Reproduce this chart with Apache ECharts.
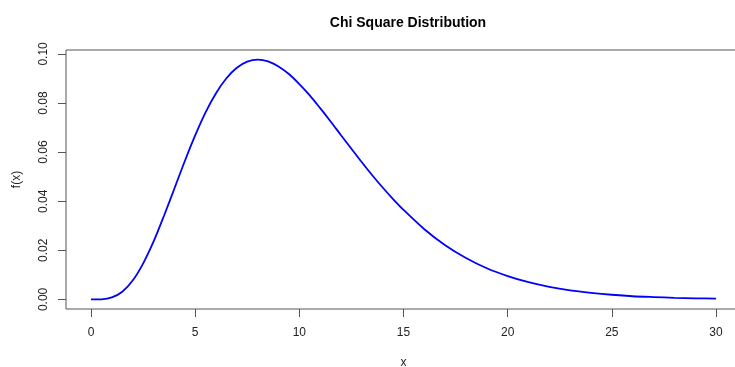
<!DOCTYPE html>
<html>
<head>
<meta charset="utf-8">
<script src="https://cdn.jsdelivr.net/npm/echarts@6/dist/echarts.min.js"></script>
<style>
  html, body { margin: 0; padding: 0; background: #fff; }
  #chart { width: 735px; height: 367px; }
</style>
</head>
<body>
<div id="chart"></div>
<script>
// values
const xValues = [0, 0.5, 1, 1.5, 2, 2.5, 3, 3.5, 4, 4.5, 5, 5.5, 6, 6.5, 7, 7.5, 8, 8.5, 9, 9.5,
  10, 10.5, 11, 11.5, 12, 12.5, 13, 13.5, 14, 14.5, 15, 16, 17, 18, 19, 20, 21, 22, 23, 24, 25,
  26, 27, 28, 29, 30]
const yValues = [0, 0.00006, 0.0008, 0.0031, 0.0077, 0.0146, 0.0235, 0.034, 0.0451, 0.0563, 0.0668,
  0.0762, 0.084, 0.0901, 0.0944, 0.0969, 0.0977, 0.0970, 0.0949, 0.0918, 0.0877, 0.0831, 0.0779,
  0.0725, 0.0669, 0.0614, 0.0559, 0.0506, 0.0456, 0.0409, 0.0365, 0.0286, 0.0221, 0.0169, 0.0127,
  0.0095, 0.007, 0.0051, 0.0037, 0.0027, 0.0019, 0.0013, 0.00095, 0.00067, 0.00046, 0.00032]
const xTicks = [0, 5, 10, 15, 20, 25, 30]
const yTicks = [0, 0.02, 0.04, 0.06, 0.08, 0.1]

const chart = echarts.init(document.getElementById('chart'))
const font = 'Liberation Sans, Arial, sans-serif'

const option = {
  animation: false,
  title: {
    text: 'Chi Square Distribution',
    left: 403,
    top: 11,
    textAlign: 'center',
    textStyle: { fontFamily: font, fontSize: 14, fontWeight: 'bold', color: '#000' }
  },
  grid: {
    left: 66,
    width: 675,   // frame runs past the right edge of the picture
    top: 50,
    height: 259,
    show: true,
    containLabel: false,
    outerBoundsMode: 'none',
    borderColor: '#555',
    borderWidth: 1
  },
  xAxis: {
    type: 'value',
    min: -1.2,
    max: 31.2,
    name: 'x',
    nameLocation: 'middle',
    nameGap: 48,
    nameTextStyle: { fontFamily: font, fontSize: 12, color: '#222' },
    axisLine: { show: false, onZero: false },
    axisTick: { show: true, length: 8, lineStyle: { color: '#555' }, customValues: xTicks },
    axisLabel: { fontFamily: font, fontSize: 12, color: '#222', margin: 18, customValues: xTicks },
    splitLine: { show: false }
  },
  yAxis: {
    type: 'value',
    min: -0.0039,
    max: 0.1016,
    name: 'f(x)',
    nameLocation: 'middle',
    nameGap: 43,
    nameRotate: 90,
    nameTextStyle: { fontFamily: font, fontSize: 12, color: '#222' },
    axisLine: { show: false, onZero: false },
    axisTick: { show: true, length: 8, lineStyle: { color: '#555' }, customValues: yTicks },
    axisLabel: {
      fontFamily: font, fontSize: 12, color: '#222', rotate: 90, margin: 16,
      customValues: yTicks,
      formatter: v => v.toFixed(2)
    },
    splitLine: { show: false }
  },
  series: [{
    type: 'line',
    data: xValues.map((x, i) => [x, yValues[i]]),
    smooth: 0.3,
    showSymbol: false,
    lineStyle: { color: '#0000ff', width: 1.8 },
    itemStyle: { color: '#0000ff' }
  }]
}
chart.setOption(option)
</script>
</body>
</html>
